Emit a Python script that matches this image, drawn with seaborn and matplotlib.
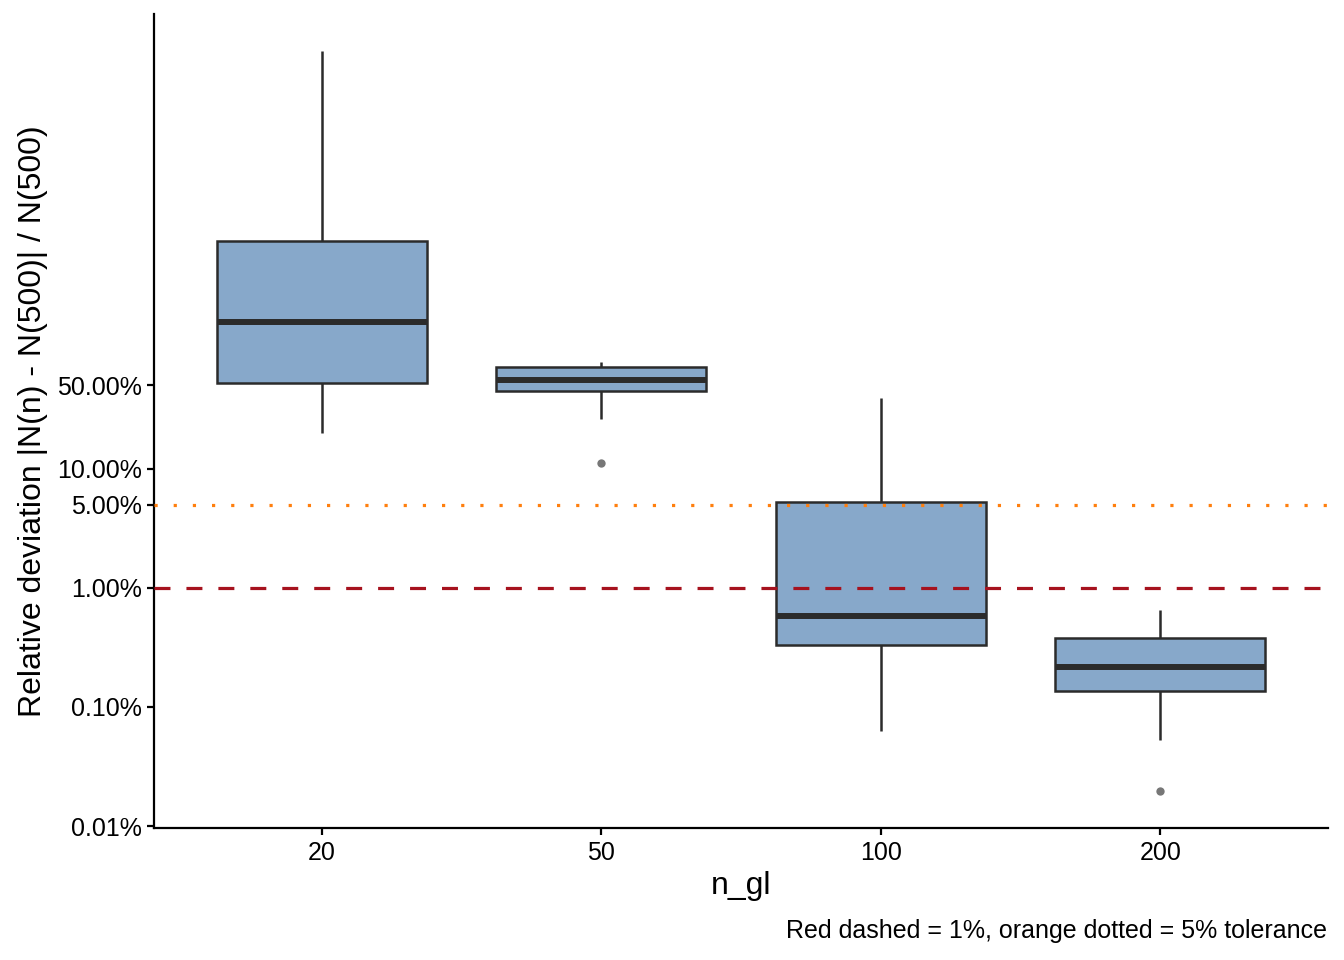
import numpy as np
import pandas as pd
import matplotlib
matplotlib.use("Agg")
import matplotlib.pyplot as plt
import seaborn as sns

# relative deviation in percent, per n_gl group
groups = ["20", "50", "100", "200"]
dev_20 = [20.1, 35.0, 52.8, 95.0, 172.0, 380.0, 809.0, 3000.0, 31900.0]
dev_50 = [11.2, 26.3, 45.2, 50.0, 56.0, 65.0, 72.0, 76.0, 79.3]
dev_100 = [0.0629, 0.20, 0.332, 0.45, 0.582, 2.0, 5.28, 15.0, 39.5]
dev_200 = [0.0197, 0.0528, 0.136, 0.18, 0.217, 0.30, 0.38, 0.50, 0.653]
y_ticks = [0.01, 0.1, 1, 5, 10, 50]
tol_strict = 1.0
tol_loose = 5.0

df = pd.DataFrame({
    "n_gl": np.repeat(groups, [len(dev_20), len(dev_50), len(dev_100), len(dev_200)]),
    "dev": dev_20 + dev_50 + dev_100 + dev_200,
})

sns.set_style("ticks")
plt.rcParams["font.family"] = ["Liberation Sans", "DejaVu Sans"]

fig = plt.figure(figsize=(13.44, 9.6), dpi=100)
ax = fig.add_axes([0.1146, 0.1375, 0.8735, 0.8475])

sns.boxplot(data=df, x="n_gl", y="dev", order=groups, ax=ax, log_scale=True,
            width=0.75, color="#87A8CA", saturation=1, whis=1.5, showcaps=False,
            linecolor="#2B2B2B", linewidth=1.8,
            medianprops=dict(linewidth=4.3, color="#2B2B2B"),
            flierprops=dict(marker="o", markersize=6, markerfacecolor="#555555",
                            markeredgecolor="none", alpha=0.8))

ax.axhline(tol_strict, color="#A6121E", linewidth=2.3, linestyle=(0, (5.0, 5.0)), zorder=5)
ax.axhline(tol_loose, color="#FF7F0E", linewidth=2.3, linestyle=(0, (1, 5.0)),
           dash_capstyle="butt", zorder=5)

lo, hi = np.log10(min(df["dev"])), np.log10(max(df["dev"]))
pad = 0.05 * (hi - lo)
ax.set_ylim(10 ** (lo - pad), 10 ** (hi + pad))
ax.set_xlim(-0.6, len(groups) - 0.4)
ax.set_yticks(y_ticks)
ax.set_yticklabels([f"{v:.2f}%" for v in y_ticks])
ax.yaxis.set_minor_locator(matplotlib.ticker.NullLocator())

for s in ["top", "right"]:
    ax.spines[s].set_visible(False)
for s in ["left", "bottom"]:
    ax.spines[s].set_linewidth(1.6)
    ax.spines[s].set_color("black")
ax.tick_params(axis="both", labelsize=18, length=5, width=1.6, color="black",
               labelcolor="black", pad=4)

ax.set_xlabel("n_gl", fontsize=23, labelpad=5, color="black")
ax.set_ylabel("Relative deviation |N(n) - N(500)| / N(500)", fontsize=23,
              labelpad=6, color="black")

fig.text(0.987, 0.03, "Red dashed = 1%, orange dotted = 5% tolerance",
         ha="right", va="center", fontsize=18, color="black")

fig.savefig("out.png", dpi=100)
